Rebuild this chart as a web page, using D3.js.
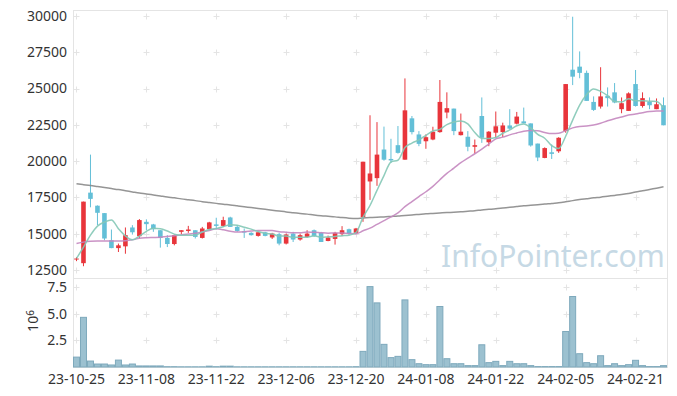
<!doctype html>
<head>
  <meta charset="utf-8">
  <script src="https://cdnjs.cloudflare.com/ajax/libs/d3/7.8.2/d3.min.js"></script>
</head>
<style>
  body { margin: 0; background: #fff; }
  svg text { font-family: "Noto Sans", sans-serif; font-size: 14px; fill: #333; }
</style>
<body>
<div id="chart"></div>
<script>
// trading days shown on the chart
const dates = [
  "23-10-25","23-10-26","23-10-27","23-10-30","23-10-31",
  "23-11-01","23-11-02","23-11-03","23-11-06","23-11-07","23-11-08","23-11-09","23-11-10",
  "23-11-13","23-11-14","23-11-15","23-11-16","23-11-17","23-11-20","23-11-21","23-11-22",
  "23-11-23","23-11-24","23-11-27","23-11-28","23-11-29","23-11-30",
  "23-12-01","23-12-04","23-12-05","23-12-06","23-12-07","23-12-08","23-12-11","23-12-12",
  "23-12-13","23-12-14","23-12-15","23-12-18","23-12-19","23-12-20","23-12-21","23-12-22",
  "23-12-26","23-12-27","23-12-28",
  "24-01-02","24-01-03","24-01-04","24-01-05","24-01-08","24-01-09","24-01-10","24-01-11",
  "24-01-12","24-01-15","24-01-16","24-01-17","24-01-18","24-01-19","24-01-22","24-01-23",
  "24-01-24","24-01-25","24-01-26","24-01-29","24-01-30","24-01-31",
  "24-02-01","24-02-02","24-02-05","24-02-06","24-02-07","24-02-08","24-02-13","24-02-14",
  "24-02-15","24-02-16","24-02-19","24-02-20","24-02-21","24-02-22","24-02-23","24-02-26","24-02-27"
];

// OHLC (won)
const open = [13250,12970,17830,16930,16420,14550,14010,14130,15430,14830,
  15820,15640,15240,14710,14290,15130,15190,15240,14710,15310,
  15640,15540,16120,15470,15170,15060,14850,15100,14740,14970,
  14320,15010,14600,14780,15240,15060,14500,14640,14970,15310,
  15060,16130,18600,18830,20800,20150,21100,20100,22950,21840,
  21370,21490,22000,23350,23620,21790,21680,20990,23110,21300,
  21960,22000,22460,22580,22740,22600,21210,20220,20610,20680,
  22070,26300,26510,26080,24080,23760,24500,24740,23580,23460,
  25310,23800,24080,23580,23850];
const high = [13390,17210,20450,16950,16420,15290,14320,15430,15590,16010,
  15990,15680,15240,14900,14950,15240,15540,15240,15470,15820,
  16100,16170,16170,15590,15360,15100,15130,15130,15060,15060,
  15010,15130,15010,15240,15290,15130,14870,15130,15520,15350,
  15400,19960,23160,22690,22380,21540,22420,25700,23110,22070,
  21840,22370,25590,24740,23620,23280,22070,21490,24390,22070,
  23420,22650,23580,23390,23690,22600,21210,20950,21150,21650,
  25310,29950,27560,26240,24460,26470,25080,25380,24390,24740,
  26280,24740,24390,24320,24390];
const low = [13110,12760,16820,15590,14550,14000,13740,13620,14940,14670,
  15240,15130,14040,14080,14200,14940,15060,14670,14670,15310,
  15290,15470,15470,15130,14710,14870,14800,14820,14640,14200,
  14260,14430,14520,14710,14780,14430,14480,14250,14830,14900,
  14970,15820,17330,18300,20030,19880,20520,20100,21840,21030,
  20850,21440,21960,22950,21790,21770,20680,20520,21260,21030,
  21610,21650,22190,22530,22600,21000,20000,20200,20150,20570,
  21960,25240,25710,24150,23460,23620,23760,23990,23300,23460,
  23760,23690,23580,23580,22470];
const close = [13290,17210,17400,16440,14670,14010,14200,14900,15100,15940,
  15660,15310,14710,14290,14900,15240,15290,14780,15360,15780,
  15540,15940,15470,15190,15080,14900,15100,14850,15010,14320,
  14940,14600,14900,15010,14830,14430,14740,15060,15240,15010,
  15360,19960,19150,20450,20100,20050,20570,23500,22000,21190,
  21650,22030,24080,23650,22070,22030,20990,21100,21610,22030,
  22400,22460,22240,23070,22600,21080,20250,20900,20500,21610,
  25310,25820,26080,24150,23530,24460,24340,24040,23990,24670,
  23800,24340,23850,23920,22470];

// volume, millions of shares
const volume = [0.93,4.67,0.56,0.28,0.28,0.19,0.65,0.19,0.28,0.10,
  0.10,0.10,0.10,0.03,0.03,0.02,0.02,0.02,0.02,0.08,
  0.03,0.08,0.08,0.02,0.02,0.02,0.02,0.02,0.02,0.02,
  0.02,0.02,0.02,0.02,0.02,0.02,0.02,0.02,0.02,0.02,
  0.03,1.47,7.56,6.03,2.13,0.88,1.00,6.31,0.69,0.31,
  0.22,0.22,5.69,0.78,0.31,0.31,0.13,0.13,2.09,0.41,
  0.53,0.13,0.53,0.31,0.31,0.13,0.04,0.04,0.04,0.04,
  3.34,6.63,1.25,0.41,0.31,1.06,0.13,0.31,0.13,0.22,
  0.63,0.13,0.04,0.04,0.13];

// moving averages as plotted
const ma5 = [13296,14078,14898,15526,15800,15946,15344,14844,14576,14830,
  15160,15382,15344,15182,14974,14890,14886,14900,15114,15290,
  15350,15480,15618,15584,15444,15316,15148,15024,14988,14836,
  14844,14744,14754,14754,14856,14754,14782,14814,14860,14896,
  15082,16126,16944,17986,19004,19942,20064,20934,21244,21462,
  21782,22074,22190,22520,22696,22772,22564,21968,21560,21552,
  21626,21920,22148,22440,22554,22290,21848,21580,21066,20868,
  21714,22828,23864,24594,24978,24808,24512,24104,24072,24300,
  24168,24168,24130,24116,23676];
const ma20 = [14320,14420,14480,14500,14500,14500,14500,14520,14580,14680,
  14720,14740,14760,14800,14860,14920,14980,15030,15120,15224,
  15337,15273,15177,15114,15135,15179,15224,15222,15217,15136,
  15100,15065,15074,15110,15107,15066,15039,15053,15047,15008,
  14999,15200,15384,15647,15898,16156,16429,16862,17211,17555,
  17890,18262,18721,19153,19515,19895,20207,20509,20828,21179,
  21531,21656,21810,21941,22066,22118,22102,21972,21897,21918,
  22101,22290,22390,22415,22488,22610,22777,22924,23043,23175,
  23245,23339,23420,23462,23456];
const ma120 = [18440,18380,18320,18250,18180,18110,18040,17960,17880,17800,
  17740,17670,17600,17530,17470,17400,17340,17280,17210,17150,
  17090,17030,16980,16920,16860,16800,16740,16680,16620,16560,
  16500,16450,16400,16350,16290,16240,16200,16160,16110,16070,
  16050,16080,16110,16140,16160,16190,16220,16260,16290,16330,
  16370,16400,16430,16460,16480,16510,16550,16590,16640,16680,
  16720,16770,16820,16870,16920,16960,17000,17040,17090,17130,
  17200,17280,17350,17410,17470,17520,17580,17640,17700,17770,
  17880,17960,18050,18140,18230];

const priceTicks = [12500, 15000, 17500, 20000, 22500, 25000, 27500, 30000];
const volumeTicks = [2.5, 5.0, 7.5];
const dateTickEvery = 10;

const width = 677, height = 396;
const plotLeft = 73, plotRight = 667, plotTop = 10, plotSplit = 278, plotBottom = 367;
const upColor = '#e8353b', downColor = '#63bfd7';

const svg = d3.select('#chart').append('svg')
  .attr('width', width)
  .attr('height', height);

const n = dates.length;
const x = d3.scaleLinear().domain([-0.5, n - 0.5]).range([plotLeft, plotRight]);
const y = d3.scaleLinear().domain([11949, 30413]).range([plotSplit, plotTop]);
const yv = d3.scaleLinear().domain([0, 8.37]).range([plotBottom, plotSplit]);
const step = x(1) - x(0);

const idx = d3.range(n);
const dateTicks = idx.filter(i => i % dateTickEvery === 0);

// grid drawn as small crosses
const grid = svg.append('g').attr('stroke', '#e4e4e4').attr('stroke-width', 1);
function crosses(yvals, scale) {
  dateTicks.forEach(i => {
    yvals.forEach(v => {
      const cx = Math.round(x(i)) + 0.5, cy = Math.round(scale(v)) + 0.5;
      grid.append('path').attr('d', `M${cx - 3},${cy}H${cx + 3}M${cx},${cy - 3}V${cy + 3}`);
    });
  });
}
crosses(priceTicks, y);
crosses(volumeTicks, yv);

// watermark
svg.append('text')
  .attr('x', 441).attr('y', 267)
  .style('font-size', '30px').style('fill', '#c6d9e5')
  .text('InfoPointer.com');

// panel frames
svg.append('rect').attr('x', plotLeft + 0.5).attr('y', plotTop + 0.5)
  .attr('width', plotRight - plotLeft).attr('height', plotSplit - plotTop)
  .attr('fill', 'none').attr('stroke', '#e4e4e4');
svg.append('rect').attr('x', plotLeft + 0.5).attr('y', plotSplit + 0.5)
  .attr('width', plotRight - plotLeft).attr('height', plotBottom - plotSplit)
  .attr('fill', 'none').attr('stroke', '#e4e4e4');

// volume bars
svg.append('g').selectAll('rect')
  .data(idx)
  .join('rect')
  .attr('x', i => x(i) - step / 2 + 0.5)
  .attr('y', i => yv(volume[i]))
  .attr('width', step - 1)
  .attr('height', i => yv(0) - yv(volume[i]))
  .attr('fill', '#9cc1d0')
  .attr('stroke', '#7ea9bc')
  .attr('stroke-width', 1);

// candles
const candles = svg.append('g').selectAll('g')
  .data(idx)
  .join('g')
  .attr('fill', i => close[i] >= open[i] ? upColor : downColor)
  .attr('stroke', i => close[i] >= open[i] ? upColor : downColor);
candles.append('line')
  .attr('x1', i => x(i)).attr('x2', i => x(i))
  .attr('y1', i => y(high[i])).attr('y2', i => y(low[i]))
  .attr('stroke-width', 1);
candles.append('rect')
  .attr('x', i => x(i) - 2.3)
  .attr('width', 4.6)
  .attr('y', i => y(Math.max(open[i], close[i])))
  .attr('height', i => Math.max(1, Math.abs(y(open[i]) - y(close[i]))))
  .attr('stroke', 'none');

// moving average lines
const line = arr => d3.line().x(i => x(i)).y(i => y(arr[i])).curve(d3.curveMonotoneX)(idx);
svg.append('path').attr('d', line(ma120)).attr('fill', 'none')
  .attr('stroke', '#8a8a8a').attr('stroke-width', 1.5).attr('opacity', 0.9);
svg.append('path').attr('d', line(ma20)).attr('fill', 'none')
  .attr('stroke', '#c487bf').attr('stroke-width', 1.5).attr('opacity', 0.9);
svg.append('path').attr('d', line(ma5)).attr('fill', 'none')
  .attr('stroke', '#84c8b6').attr('stroke-width', 1.5).attr('opacity', 0.9);

// axes labels
svg.append('g').selectAll('text')
  .data(priceTicks)
  .join('text')
  .attr('x', 67).attr('y', d => y(d)).attr('dy', '0.35em')
  .attr('text-anchor', 'end')
  .text(d => d);
svg.append('g').selectAll('text')
  .data(volumeTicks)
  .join('text')
  .attr('x', 67).attr('y', d => yv(d)).attr('dy', '0.35em')
  .attr('text-anchor', 'end')
  .text(d => d3.format('.1f')(d));
svg.append('g').selectAll('text')
  .data(dateTicks)
  .join('text')
  .attr('x', i => x(i)).attr('y', 379).attr('dy', '0.35em')
  .attr('text-anchor', 'middle')
  .text(i => dates[i]);

const unit = svg.append('text')
  .attr('transform', 'translate(38,321) rotate(-90)')
  .attr('text-anchor', 'middle');
unit.append('tspan').text('10');
unit.append('tspan').attr('dy', '-0.45em').style('font-size', '10px').text('6');
</script>
</body>
